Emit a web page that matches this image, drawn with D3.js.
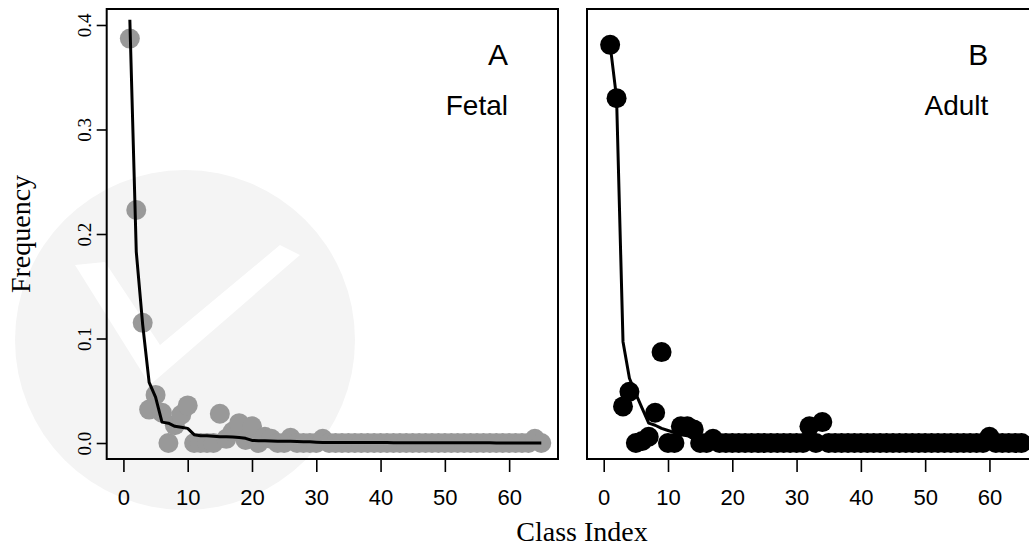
<!DOCTYPE html>
<html>
<head>
<meta charset="utf-8">
<script src="https://cdn.jsdelivr.net/npm/d3@7"></script>
<style>
  html, body { margin: 0; padding: 0; background: #fff; }
  svg { display: block; }
</style>
</head>
<body>
<svg id="chart" width="1029" height="548"></svg>
<script>
// class index 1..65 shared by both panels
var classIndex = d3.range(1, 66);

// observed frequencies, fetal (panel A)
var fetalFreq = [
	0.387, 0.223, 0.115, 0.032, 0.046, 0.029, 0.000, 0.017, 0.027, 0.036,
	0.000, 0.000, 0.000, 0.000, 0.028, 0.004, 0.011, 0.019, 0.003, 0.016,
	0.000, 0.006, 0.004, 0.000, 0.000, 0.005, 0.000, 0.000, 0.000, 0.000,
	0.004, 0.000, 0.000, 0.000, 0.000, 0.000, 0.000, 0.000, 0.000, 0.000,
	0.000, 0.000, 0.000, 0.000, 0.000, 0.000, 0.000, 0.000, 0.000, 0.000,
	0.000, 0.000, 0.000, 0.000, 0.000, 0.000, 0.000, 0.000, 0.000, 0.000,
	0.000, 0.000, 0.000, 0.004, 0.000
];
// fitted curve, fetal
var fetalFit = [
	0.405, 0.183, 0.113, 0.058, 0.044, 0.020, 0.019, 0.016, 0.015, 0.014,
	0.008, 0.007, 0.007, 0.0065, 0.006, 0.006, 0.0058, 0.0052, 0.0045, 0.0025,
	0.0022, 0.0021, 0.002, 0.0018, 0.0017, 0.0016, 0.0015, 0.0013, 0.0011, 0.0008,
	0.0006, 0.0006, 0.0005, 0.0005, 0.0005, 0.0005, 0.0004, 0.0004, 0.0004, 0.0004,
	0.0004, 0.0003, 0.0003, 0.0003, 0.0003, 0.0003, 0.0003, 0.0003, 0.0002, 0.0002,
	0.0002, 0.0002, 0.0002, 0.0002, 0.0002, 0.0002, 0.0002, 0.0001, 0.0001, 0.0001,
	0.0001, 0.0001, 0.0001, 0.0001, 0.0001
];

// observed frequencies, adult (panel B)
var adultFreq = [
	0.381, 0.330, 0.035, 0.049, 0.000, 0.002, 0.006, 0.029, 0.087, 0.000,
	0.000, 0.016, 0.016, 0.013, 0.000, 0.000, 0.004, 0.000, 0.000, 0.000,
	0.000, 0.000, 0.000, 0.000, 0.000, 0.000, 0.000, 0.000, 0.000, 0.000,
	0.000, 0.016, 0.000, 0.020, 0.000, 0.000, 0.000, 0.000, 0.000, 0.000,
	0.000, 0.000, 0.000, 0.000, 0.000, 0.000, 0.000, 0.000, 0.000, 0.000,
	0.000, 0.000, 0.000, 0.000, 0.000, 0.000, 0.000, 0.000, 0.000, 0.006,
	0.000, 0.000, 0.000, 0.000, 0.000
];
// fitted curve, adult
var adultFit = [
	0.381, 0.330, 0.097, 0.062, 0.047, 0.033, 0.019, 0.017, 0.014, 0.012,
	0.010, 0.008, 0.007, 0.006, 0.005, 0.004, 0.0035, 0.003, 0.0027, 0.0024,
	0.0021, 0.0019, 0.0017, 0.0015, 0.0014, 0.0013, 0.0012, 0.0011, 0.001, 0.0009,
	0.0008, 0.0008, 0.0007, 0.0007, 0.0006, 0.0006, 0.0005, 0.0005, 0.0005, 0.0004,
	0.0004, 0.0004, 0.0003, 0.0003, 0.0003, 0.0003, 0.0003, 0.0002, 0.0002, 0.0002,
	0.0002, 0.0002, 0.0002, 0.0002, 0.0001, 0.0001, 0.0001, 0.0001, 0.0001, 0.0001,
	0.0001, 0.0001, 0.0001, 0.0001, 0.0001
];

var xTicks = [0, 10, 20, 30, 40, 50, 60];
var yTicks = [0.0, 0.1, 0.2, 0.3, 0.4];

var svg = d3.select('#chart');
var SERIF = '"Liberation Serif", "Times New Roman", serif';
var SANS = '"Liberation Sans", Arial, Helvetica, sans-serif';

// note: not "top" -- that name is taken by window.top
var plotTop = 9, plotBottom = 459;
var y = d3.scaleLinear().domain([-0.0153, 0.4153]).range([plotBottom, plotTop]);

// faint watermark behind the left panel
var wm = svg.append('g');
wm.append('circle').attr('cx', 185).attr('cy', 340).attr('r', 170).attr('fill', '#f4f4f4');
wm.append('path').attr('fill', '#fff')
	.attr('d', 'M75,265 L150,385 L300,255 L280,245 L160,345 L105,262 Z');

var line = (xs) => d3.line()
	.x((d) => xs(d[0]))
	.y((d) => y(d[1]));

// one panel: box, axes, points, fit, labels
var drawPanel = function(cfg)
{
	var x = d3.scaleLinear().domain([-2.6, 67.6]).range([cfg.left, cfg.left + 451.3]);
	var w = x.range()[1] - cfg.left;
	var g = svg.append('g');

	g.append('defs').append('clipPath').attr('id', cfg.id + '-clip')
		.append('rect').attr('x', cfg.left).attr('y', plotTop)
		.attr('width', w).attr('height', plotBottom - plotTop);

	var pts = classIndex.map((c, i) => [c, cfg.freq[i]]);
	var fit = classIndex.map((c, i) => [c, cfg.fit[i]]);

	var plot = g.append('g').attr('clip-path', 'url(#' + cfg.id + '-clip)');
	plot.selectAll('circle').data(pts).enter().append('circle')
		.attr('cx', (d) => x(d[0]))
		.attr('cy', (d) => y(d[1]))
		.attr('r', 10)
		.attr('fill', cfg.color);
	plot.append('path').datum(fit)
		.attr('d', line(x))
		.attr('fill', 'none')
		.attr('stroke', '#000')
		.attr('stroke-width', 3)
		.attr('stroke-linejoin', 'round');

	// box
	g.append('rect')
		.attr('x', cfg.left).attr('y', plotTop)
		.attr('width', w).attr('height', plotBottom - plotTop)
		.attr('fill', 'none').attr('stroke', '#000').attr('stroke-width', 2);

	// x axis
	var xa = g.append('g').attr('transform', 'translate(0,' + plotBottom + ')')
		.call(d3.axisBottom(x).tickValues(xTicks).tickSize(13).tickPadding(17));
	xa.select('.domain').remove();
	xa.selectAll('line').attr('stroke', '#000').attr('stroke-width', 1.6);
	xa.selectAll('text').attr('font-family', SANS).attr('font-size', 22).attr('fill', '#000');

	// y axis only on the left panel
	if (cfg.yAxis)
	{
		var ya = g.append('g').attr('transform', 'translate(' + cfg.left + ',0)')
			.call(d3.axisLeft(y).tickValues(yTicks).tickSize(10).tickFormat(d3.format('.1f')));
		ya.select('.domain').remove();
		ya.selectAll('line').attr('stroke', '#000').attr('stroke-width', 1.6);
		ya.selectAll('text')
			.attr('x', 0).attr('dy', 0)
			.attr('text-anchor', 'middle')
			.attr('transform', 'translate(-15.5,0) rotate(-90)')
			.attr('font-family', SERIF).attr('font-size', 19).attr('fill', '#000');
	}

	var rx = x.range()[1] - 50;
	g.append('text').attr('x', rx).attr('y', 65)
		.attr('text-anchor', 'end').attr('font-family', SANS).attr('font-size', 30)
		.text(cfg.letter);
	g.append('text').attr('x', rx).attr('y', 115)
		.attr('text-anchor', 'end').attr('font-family', SANS).attr('font-size', 28)
		.text(cfg.label);
};

drawPanel({ id: 'a', left: 106.7, freq: fetalFreq, fit: fetalFit, color: '#999999', letter: 'A', label: 'Fetal', yAxis: true });
drawPanel({ id: 'b', left: 587, freq: adultFreq, fit: adultFit, color: '#000000', letter: 'B', label: 'Adult', yAxis: false });

// shared axis titles
svg.append('text')
	.attr('transform', 'translate(30,234) rotate(-90)')
	.attr('text-anchor', 'middle')
	.attr('font-family', SERIF).attr('font-size', 28)
	.text('Frequency');
svg.append('text')
	.attr('x', 582).attr('y', 541)
	.attr('text-anchor', 'middle')
	.attr('font-family', SERIF).attr('font-size', 28)
	.text('Class Index');
</script>
</body>
</html>
